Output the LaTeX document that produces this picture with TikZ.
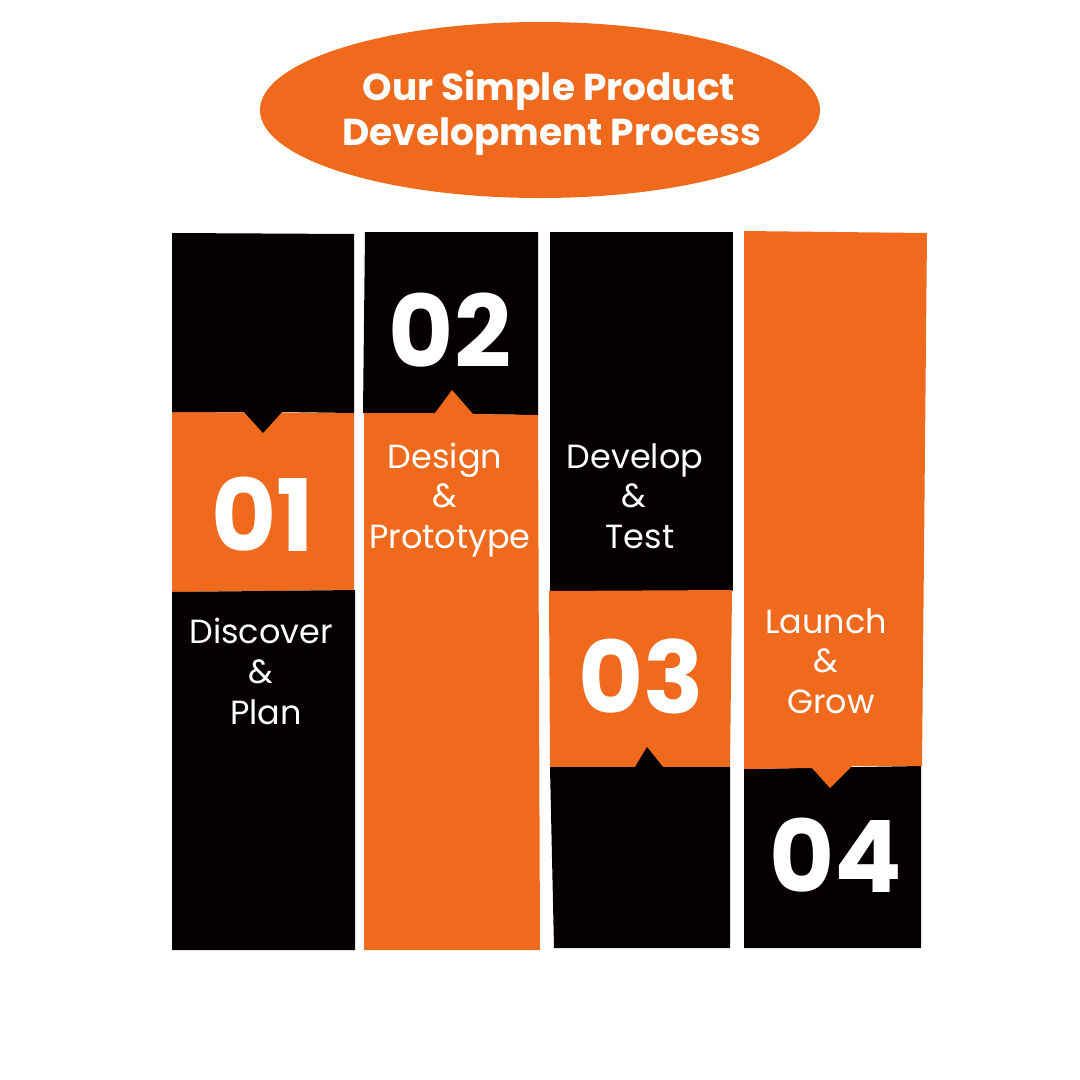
\documentclass[tikz,border=0pt]{standalone}
\usepackage{fontspec}
\setmainfont{Poppins}
\definecolor{org}{HTML}{EF6A1D}
\definecolor{blk}{HTML}{040000}
\tikzset{
  orgfill/.style={fill=org,draw=none},
  blkfill/.style={fill=blk,draw=none},
  lbl/.style={text=white,anchor=base,inner sep=0pt,font=\fontsize{33.5}{40}\selectfont},
  num/.style={text=white,anchor=base,inner sep=0pt,font=\fontsize{100}{100}\selectfont\bfseries},
  ttl/.style={text=white,anchor=base,inner sep=0pt,font=\fontsize{37.5}{44}\selectfont\bfseries}
}
\begin{document}
\begin{tikzpicture}[x=1pt,y=-1pt]
\useasboundingbox[fill=white] (0,0) rectangle (1080,1080);
% title ellipse
\fill[org] (540,110) ellipse [x radius=280, y radius=88];
\node[ttl] (t1) at (549,100) {Our Simple Product};
\node[ttl] (t2) at (552,145) {Development Process};
% column 1
\fill[org] (172,412) -- (354,413) -- (354,590) -- (172,592) -- cycle;
\fill[blk] (172,233) -- (354,234) -- (354,413) -- (282,412) -- (263,433) -- (244,412) -- (172,412) -- cycle;
\fill[blk] (172,592) -- (355,590) -- (355,950) -- (172,950) -- cycle;
% column 2
\fill[blk] (365,232) -- (538,232) -- (538,415) -- (363,413) -- cycle;
\fill[org] (364,413) -- (435,413) -- (452,390) -- (473,414) -- (538,415) -- (540,950) -- (364,950) -- cycle;
% column 3
\fill[blk] (550,232) -- (733,232) -- (733,591) -- (550,591) -- cycle;
\fill[org] (549,591) -- (732,590) -- (730,767) -- (550,767) -- cycle;
\fill[blk] (550,767) -- (635,767) -- (647,747) -- (663,767) -- (730,767) -- (730,948) -- (554,948) -- cycle;
% column 4
\fill[blk] (744,769) -- (921,766) -- (921,948) -- (744,948) -- cycle;
\fill[org] (744,231) -- (927,233) -- (922,766) -- (852,766) -- (830,788) -- (812,768) -- (744,769) -- cycle;
% numbers
\node[num] (n1) at (263,551) {01};
\node[num] (n2) at (450,367) {02};
\node[num] (n3) at (641,713) {03};
\node[num] (n4) at (836,892) {04};
% labels
\node[lbl] (a1) at (261,643) {Discover};
\node[lbl] (a2) at (261,683) {\&};
\node[lbl] (a3) at (266,724) {Plan};
\node[lbl] (b1) at (445,468) {Design};
\node[lbl] (b2) at (445,507) {\&};
\node[lbl] (b3) at (450,548) {Prototype};
\node[lbl] (c1) at (635,468) {Develop};
\node[lbl] (c2) at (634,507) {\&};
\node[lbl] (c3) at (640,548) {Test};
\node[lbl] (d1) at (826,633) {Launch};
\node[lbl] (d2) at (826,672) {\&};
\node[lbl] (d3) at (831,713) {Grow};
\end{tikzpicture}
\end{document}
